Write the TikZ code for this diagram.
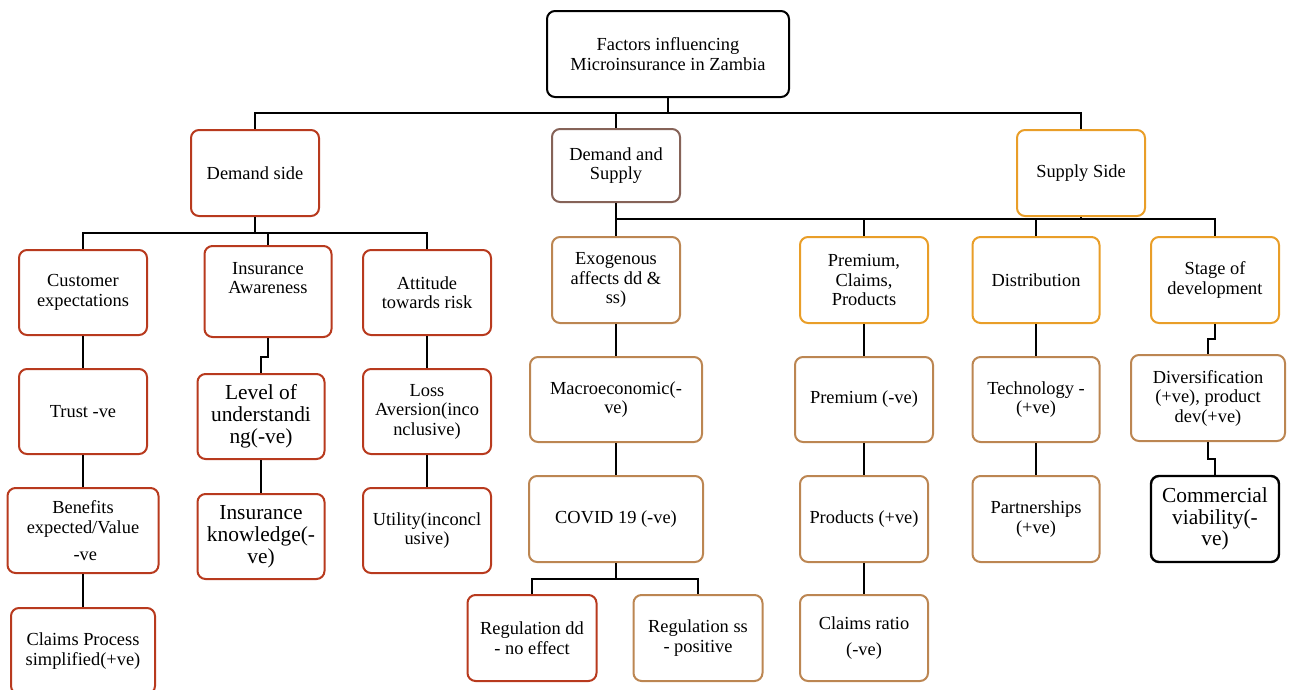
\documentclass[tikz,border=0pt]{standalone}
\usepackage{fontspec}
\setmainfont{Liberation Serif}
\definecolor{cred}{RGB}{184,58,30}
\definecolor{ctan}{RGB}{188,134,82}
\definecolor{corange}{RGB}{233,158,40}
\definecolor{cbrown}{RGB}{134,99,88}
\tikzset{
  box/.style={draw, line width=2pt, rounded corners=8pt, fill=white, inner sep=0pt, align=center,
    font=\fontsize{18.4}{19.5}\selectfont, text=black},
  bigtext/.style={font=\fontsize{21.4}{21.8}\selectfont},
  plaintext/.style={inner sep=0pt, align=center, font=\fontsize{18.4}{19.5}\selectfont},
  redbox/.style={box, draw=cred},
  tanbox/.style={box, draw=ctan},
  orangebox/.style={box, draw=corange},
  brownbox/.style={box, draw=cbrown},
  blackbox/.style={box, draw=black},
  wire/.style={draw=black, line width=2pt},
}
\newcommand{\bx}[7]{% style, name, cx, cy, w, h, text
  \node[#1, minimum width=#5pt, minimum height=#6pt] (#2) at (#3,#4) {#7};}
\begin{document}
\begin{tikzpicture}[x=1pt,y=-1pt]
\useasboundingbox (0,0) rectangle (1291,689);
% coordinates for buses
\coordinate (busA) at (0,113);
\coordinate (busB) at (0,233);
\coordinate (busC) at (0,219);

% top
\bx{blackbox}{factors}{668}{54}{242}{86}{Factors influencing\\Microinsurance in Zambia}
\bx{redbox}{demand}{255}{173}{128}{86}{Demand side}
\bx{brownbox}{dands}{616}{165.5}{128}{73}{Demand and\\Supply}
\bx{orangebox}{supplyside}{1081}{173}{128}{86}{Supply Side}

% demand side
\bx{redbox}{cust}{83}{292.5}{128}{85}{Customer\\expectations}
\bx{redbox}{ia}{268}{291.5}{127}{91}{}
\node[plaintext] (iatext) at (268,278) {Insurance\\Awareness};
\bx{redbox}{att}{427}{292.5}{128}{85}{Attitude\\towards risk}
\bx{redbox}{trust}{83}{411.5}{128}{85}{Trust -ve}
\bx{redbox, bigtext}{lev}{261}{416.5}{127}{85}{Level of\\understandi\\ng(-ve)}
\bx{redbox}{loss}{427}{411.5}{128}{85}{Loss\\Aversion(inco\\nclusive)}
\bx{redbox}{ben}{83}{530.5}{151}{85}{Benefits\\expected/Value\\[7.5pt]\ -ve}
\bx{redbox, bigtext}{know}{261}{536.5}{127}{85}{Insurance\\knowledge(-\\ve)}
\bx{redbox}{util}{427}{530.5}{128}{85}{Utility(inconcl\\usive)}
\bx{redbox}{claims}{83}{651}{144}{86}{Claims Process\\simplified(+ve)}

% demand and supply column
\bx{tanbox}{exo}{616}{280}{128}{86}{Exogenous\\affects dd \&\\ss)}
\bx{tanbox}{macro}{616}{399.5}{172}{85}{Macroeconomic(-\\ve)}
\bx{tanbox}{covid}{616}{519}{174}{86}{COVID 19 (-ve)}
\bx{redbox}{regdd}{532}{638}{129}{86}{Regulation dd\\- no effect}
\bx{tanbox}{regss}{698}{638}{129}{86}{Regulation ss\\- positive}

% supply side
\bx{orangebox}{pcp}{864}{280}{128}{86}{Premium,\\Claims,\\Products}
\bx{tanbox}{prem}{864}{399.5}{138}{85}{Premium (-ve)}
\bx{tanbox}{prod}{864}{519}{128}{86}{Products (+ve)}
\bx{tanbox}{cratio}{864}{638}{128}{86}{Claims ratio\\[6.5pt](-ve)}
\bx{orangebox}{dist}{1036}{280}{127}{86}{Distribution}
\bx{tanbox}{tech}{1036}{399.5}{127}{85}{Technology -\\(+ve)}
\bx{tanbox}{part}{1036}{519}{127}{86}{Partnerships\\(+ve)}
\bx{orangebox}{stage}{1215}{280}{128}{86}{Stage of\\development}
\bx{tanbox}{div}{1208}{398}{154}{86}{Diversification\\(+ve), product\\dev(+ve)}
\node[blackbox, bigtext, line width=2.4pt, minimum width=128pt, minimum height=86pt] (comm) at (1215,519) {Commercial\\viability(-\\ve)};

% connectors: level 1
\draw[wire] (factors.south) -- (factors.south |- busA);
\draw[wire] (demand.north) -- (demand.north |- busA) -- (supplyside.north |- busA) -- (supplyside.north);
\draw[wire] (dands.north) -- (dands.north |- busA);

% demand side bus
\draw[wire] (demand.south) -- (demand.south |- busB);
\draw[wire] (cust.north) -- (cust.north |- busB) -- (att.north |- busB) -- (att.north);
\draw[wire] (ia.north) -- (ia.north |- busB);

% supply bus
\draw[wire] (dands.south) -- (exo.north);
\draw[wire] (dands.south |- busC) -- (stage.north |- busC) -- (stage.north);
\draw[wire] (supplyside.south) -- (supplyside.south |- busC);
\draw[wire] (pcp.north) -- (pcp.north |- busC);
\draw[wire] (dist.north) -- (dist.north |- busC);

% columns
\draw[wire] (cust.south) -- (trust.north);
\draw[wire] (trust.south) -- (ben.north);
\draw[wire] (ben.south) -- (claims.north);
\draw[wire] (ia.south) -- ++(0,19) -| (lev.north);
\draw[wire] (lev.south) -- (know.north);
\draw[wire] (att.south) -- (loss.north);
\draw[wire] (loss.south) -- (util.north);
\draw[wire] (exo.south) -- (macro.north);
\draw[wire] (macro.south) -- (covid.north);
\draw[wire] (covid.south) -- ++(0,16) coordinate (cb);
\draw[wire] (regdd.north) |- (cb) -| (regss.north);
\draw[wire] (pcp.south) -- (prem.north);
\draw[wire] (prem.south) -- (prod.north);
\draw[wire] (prod.south) -- (cratio.north);
\draw[wire] (dist.south) -- (tech.north);
\draw[wire] (tech.south) -- (part.north);
\draw[wire] (stage.south) -- ++(0,15) -| (div.north);
\draw[wire] (div.south) -- ++(0,17) -| (comm.north);
\end{tikzpicture}
\end{document}
